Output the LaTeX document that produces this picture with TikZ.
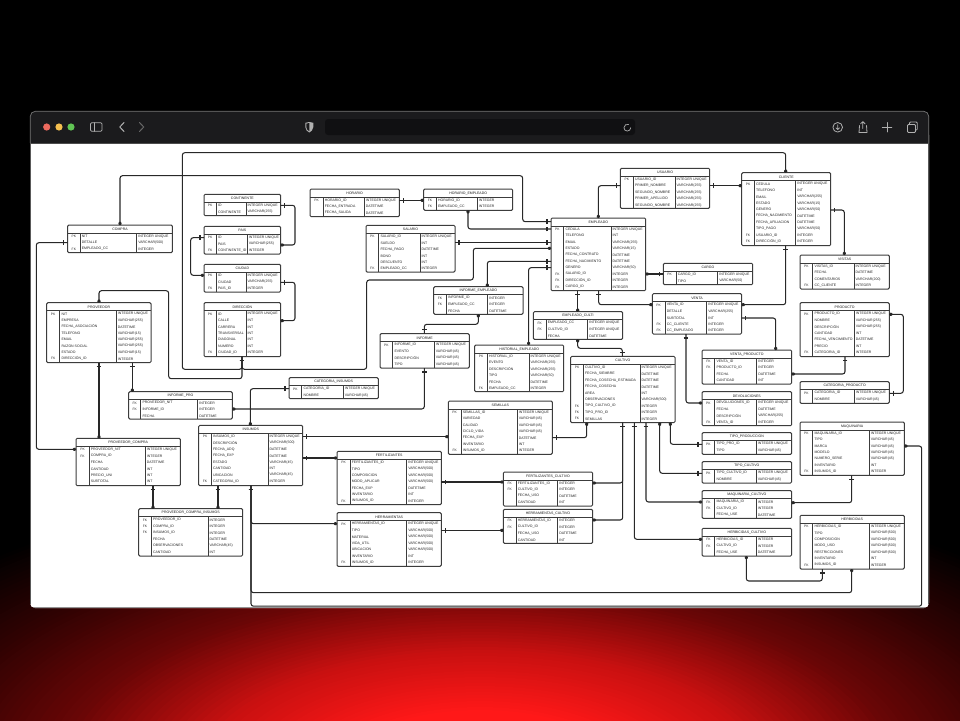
\documentclass[tikz,border=0pt]{standalone}
\usepackage{fontspec}
\setmainfont{Liberation Sans}
\usetikzlibrary{decorations.markings}
\definecolor{glowA}{HTML}{FF1818}
\definecolor{glowB}{HTML}{C81010}
\definecolor{glowC}{HTML}{6A0606}
\definecolor{glowD}{HTML}{300202}
\definecolor{glowE}{HTML}{000000}
\definecolor{chrome}{HTML}{1B1B1D}
\definecolor{addr}{HTML}{101012}
\definecolor{iconc}{HTML}{B0B0B0}
\definecolor{tline}{HTML}{3C3C3C}
\definecolor{cline}{HTML}{282828}
\definecolor{ttext}{HTML}{262626}
\definecolor{lightR}{HTML}{EC6A5E}
\definecolor{lightY}{HTML}{F4BF4F}
\definecolor{lightG}{HTML}{61C554}
\tikzset{
  tbox/.style={draw=tline,line width=1pt,fill=white,rounded corners=1.2pt,anchor=north west,inner sep=0pt,outer sep=0pt},
  tsep/.style={draw=tline,line width=.9pt},
  tkey/.style={font=\fontsize{3.3}{4}\selectfont,text=ttext,inner sep=0pt,anchor=center},
  tcell/.style={font=\fontsize{3.5}{4}\selectfont,text=ttext,inner sep=0pt,anchor=west},
  ttitle/.style={font=\fontsize{3.5}{4}\selectfont,text=black!90,inner sep=0pt,anchor=center},
  conn/.style={draw=cline,line width=1.05pt,rounded corners=2.5pt},
  oneS/.style={postaction={decorate,decoration={markings,mark=at position 4pt with {\draw[cline,line width=1.1pt] (0,-2.4pt)--(0,2.4pt);}}}},
  oneE/.style={postaction={decorate,decoration={markings,mark=at position -4pt with {\draw[cline,line width=1.1pt] (0,-2.4pt)--(0,2.4pt);}}}},
  manyS/.style={postaction={decorate,decoration={markings,mark=at position .1pt with {\fill[cline] (0,-2.7pt)--(4.6pt,0)--(0,2.7pt)--cycle;}}}},
  manyE/.style={postaction={decorate,decoration={markings,mark=at position -.1pt with {\fill[cline] (0,-2.7pt)--(-4.6pt,0)--(0,2.7pt)--cycle;}}}},
  icon/.style={draw=iconc,line width=.8pt,line cap=round,line join=round},
}
% name, title, x1, y1, x2, y2, col1, col2, rows
\newcommand{\tbl}[9]{%
  \node[tbox,minimum width={(#5-#3)*1pt},minimum height={(#6-#4)*1pt}] (#1) at (#3,#4) {};
  \node[ttitle] (#1-title) at ({(#3+#5)/2},{#4+4.2}) {#2};
  \draw[tsep] (#3,{#4+8}) -- (#5,{#4+8});
  \draw[tsep] (#7,{#4+8}) -- (#7,#6);
  \draw[tsep] (#8,{#4+8}) -- (#8,#6);
  \foreach \ka/\nb/\tc [count=\ii] in {#9}{
    \node[tkey] (#1-k\ii) at ({(#3+#7)/2},{#4+8+3.3+6.4*(\ii-1)}) {\ka};
    \node[tcell] (#1-n\ii) at ({#7+1.6},{#4+8+3.3+6.4*(\ii-1)}) {\nb};
    \node[tcell] (#1-t\ii) at ({#8+1.4},{#4+8+3.3+6.4*(\ii-1)}) {\tc};
  }%
}
\begin{document}
\begin{tikzpicture}[x=1pt,y=-1pt]
\useasboundingbox (0,0) rectangle (960,720);
\fill[black] (0,0) rectangle (960,720);
\begin{scope}
  \clip (0,0) rectangle (960,720);
  \foreach \ca/\cb/\ro in {glowE/glowD/1,glowD/glowC/.8,glowC/glowB/.6,glowB/glowA/.4}{
    \foreach \st in {0,...,20}{
      \pgfmathsetmacro\pc{\st*5}
      \fill[\cb!\pc!\ca] (480,770) ellipse ({700*(\ro-.2*\st/20)} and {300*(\ro-.2*\st/20)});
    }
  }
\end{scope}
% window
\fill[white,rounded corners=5pt] (30,130) rectangle (929,608);
\fill[black!70,opacity=.6] (34,606.8) rectangle (925,608.2);
\fill[chrome,rounded corners=5pt] (30,111) rectangle (929,150);
\fill[white] (31,143) rectangle (928,152);
\draw[black!55,line width=.7pt,rounded corners=5pt] (30.3,143) -- (30.3,111.3) -- (928.7,111.3) -- (928.7,143);
\draw[black!70,line width=.8pt] (30.5,143) -- (928.5,143);
\draw[black!65,line width=.8pt] (30.4,143) -- (30.4,604);
\draw[black!65,line width=.8pt] (928.6,143) -- (928.6,604);
\fill[addr,rounded corners=3pt] (325,119) rectangle (635,135);
\fill[lightR] (46.7,127) circle (3.6);
\fill[lightY] (59,127) circle (3.6);
\fill[lightG] (71,127) circle (3.6);
\draw[icon,rounded corners=1.2pt] (90.5,122.7) rectangle (102,131.3);
\draw[icon] (94.5,122.7) -- (94.5,131.3);
\draw[icon,line width=1pt] (124,122.5) -- (119.8,127) -- (124,131.5);
\draw[black!60,line width=1pt,line cap=round] (139.5,122.5) -- (143.7,127) -- (139.5,131.5);
\fill[iconc] (305.3,122.8) -- (309.3,122) -- (313.3,122.8) -- (313.3,127) .. controls (313.3,130) and (311,131.5) .. (309.3,132.5) .. controls (307.6,131.5) and (305.3,130) .. (305.3,127) -- cycle;
\fill[chrome] (306.3,123.6) -- (309.3,123) -- (309.3,131.2) .. controls (307.8,130.3) and (306.3,129) .. (306.3,127) -- cycle;
\draw[icon,line width=.7pt] (630.7,127.7) arc[start angle=0,end angle=290,radius=3.4];
\draw[icon] (837.7,127.3) circle (4.8);
\draw[icon,line width=.7pt] (837.7,124.7) -- (837.7,129.3) (835.9,127.9) -- (837.7,129.6) -- (839.5,127.9);
\draw[icon] (859.5,125.5) -- (859,132.5) -- (867,132.5) -- (866.5,125.5);
\draw[icon] (862.8,128.5) -- (862.8,121.8) (860.6,123.8) -- (862.8,121.6) -- (865,123.8);
\draw[icon] (887,122.5) -- (887,132) (882.2,127.2) -- (891.8,127.2);
\draw[icon,rounded corners=1pt] (907.5,124.5) rectangle (915.5,132.5);
\draw[icon,rounded corners=1pt] (909.5,124) -- (909.5,122) -- (917.3,122) -- (917.3,130) -- (916,130);

% tables
\tbl{compra}{COMPRA}{67.7}{225}{172.3}{252.7}{80}{136.7}{PK/NIT/INTEGER UNIQUE,/DETALLE/VARCHAR(500),FK/EMPLEADO\_CC/INTEGER}
\tbl{continente}{CONTINENTE}{204}{194.3}{280.7}{215.7}{216.3}{246}{PK/ID/INTEGER UNIQUE,/CONTINENTE/VARCHAR(255)}
\tbl{pais}{PAIS}{204}{226.3}{280.7}{254}{216.3}{247.3}{PK/ID/INTEGER UNIQUE,/PAIS/VARCHAR(255),FK/CONTINENTE\_ID/INTEGER}
\tbl{ciudad}{CIUDAD}{204}{264.3}{280.7}{292}{216.3}{246}{PK/ID/INTEGER UNIQUE,/CIUDAD/VARCHAR(255),FK/PAIS\_ID/INTEGER}
\tbl{direccion}{DIRECCIÓN}{204}{302.7}{280.7}{356.7}{216.3}{246}{PK/ID/INTEGER UNIQUE,/CALLE/INT,/CARRERA/INT,/TRANSVERSAL/INT,/DIAGONAL/INT,/NUMERO/INT,FK/CIUDAD\_ID/INTEGER}
\tbl{proveedor}{PROVEEDOR}{46.7}{302.7}{151}{362.7}{59.7}{116.3}{PK/NIT/INTEGER UNIQUE,/EMPRESA/VARCHAR(255),/FECHA\_ASOCIACIÓN/DATETIME,/TELEFONO/VARCHAR(15),/EMAIL/VARCHAR(255),/RAZON SOCIAL/VARCHAR(255),/ESTADO/VARCHAR(15),FK/DIRECCIÓN\_ID/INTEGER}
\tbl{informepro}{INFORME\_PRO}{128.7}{391.7}{232.3}{419}{140.7}{197.7}{FK/PROVEEDOR\_NIT/INTEGER,FK/INFORME\_ID/INTEGER,/FECHA/DATETIME}
\tbl{horario}{HORARIO}{310}{189}{399.3}{216.7}{323}{364.3}{PK/HORARIO\_ID/INTEGER UNIQUE,/FECHA\_ENTRADA/DATETIME,/FECHA\_SALIDA/DATETIME}
\tbl{horarioemp}{HORARIO\_EMPLEADO}{423.7}{189}{512.7}{210.3}{436.3}{477.3}{FK/HORARIO\_ID/INTEGER,FK/EMPLEADO\_CC/INTEGER}
\tbl{salario}{SALARIO}{366}{225.3}{455}{272}{378.7}{420}{PK/SALARIO\_ID/INTEGER UNIQUE,/SUELDO/INT,/FECHA\_PAGO/DATETIME,/BONO/INT,/DESCUENTO/INT,FK/EMPLEADO\_CC/INTEGER}
\tbl{informeemp}{INFORME\_EMPLEADO}{433.7}{286.7}{523}{314.3}{446.3}{487.7}{FK/INFORME\_ID/INTEGER,FK/EMPLEADO\_CC/INTEGER,/FECHA/DATETIME}
\tbl{empleado}{EMPLEADO}{551}{218}{645.7}{290.7}{563.7}{611}{PK/CEDULA/INTEGER UNIQUE,/TELEFONO/INT,/EMAIL/VARCHAR(255),/ESTADO/VARCHAR(15),/FECHA\_CONTRATO/DATETIME,/FECHA\_NACIMIENTO/DATETIME,/GENERO/VARCHAR(50),FK/SALARIO\_ID/INTEGER,FK/DIRECCIÓN\_ID/INTEGER,FK/CARGO\_ID/INTEGER}
\tbl{usuario}{USUARIO}{620.3}{168.3}{709.7}{208.3}{633.3}{675}{PK/USUARIO\_ID/INTEGER UNIQUE,/PRIMER\_NOMBRE/VARCHAR(255),/SEGUNDO\_NOMBRE/VARCHAR(255),/PRIMER\_APELLIDO/VARCHAR(255),/SEGUNDO\_NOMBRE/VARCHAR(255)}
\tbl{cliente}{CLIENTE}{741.7}{172.7}{830.7}{245.7}{754.3}{795.7}{PK/CEDULA/INTEGER UNIQUE,/TELEFONO/INT,/EMAIL/VARCHAR(255),/ESTADO/VARCHAR(15),/GENERO/VARCHAR(50),/FECHA\_NACIMIENTO/DATETIME,/FECHA\_AFILIACION/DATETIME,/TIPO\_PAGO/VARCHAR(50),FK/USUARIO\_ID/INTEGER,FK/DIRECCIÓN\_ID/INTEGER}
\tbl{visitas}{VISITAS}{800}{255}{889.3}{289}{812.7}{854}{PK/VISITAS\_ID/INTEGER UNIQUE,/FECHA/DATETIME,/COMENTARIOS/VARCHAR(200),FK/CC\_CLIENTE/INTEGER}
\tbl{cargo}{CARGO}{663.3}{263.3}{752.7}{284.7}{676}{717.7}{PK/CARGO\_ID/INTEGER UNIQUE,/TIPO/VARCHAR(50)}
\tbl{venta}{VENTA}{652.3}{293.7}{741.7}{334}{665}{706.7}{PK/VENTA\_ID/INTEGER UNIQUE,/DETALLE/VARCHAR(255),/SUBTOTAL/INT,FK/CC\_CLIENTE/INTEGER,FK/CC\_EMPLEADO/INTEGER}
\tbl{empcult}{EMPLEADO\_CULTI}{533.3}{311.7}{622.7}{339.3}{546}{587.7}{FK/EMPLEADO\_CC/INTEGER UNIQUE,FK/CULTIVO\_ID/INTEGER UNIQUE,/FECHA/DATETIME}
\tbl{cultivo}{CULTIVO}{570.7}{356.3}{675}{422.7}{583.3}{640}{PK/CULTIVO\_ID/INTEGER UNIQUE,/FECHA\_SIEMBRE/DATETIME,/FECHA\_COSECHA\_ESTIMADA/DATETIME,/FECHA\_COSECHA/DATETIME,/AREA/INT,/OBSERVACIONES/VARCHAR(500),FK/TIPO\_CULTIVO\_ID/INTEGER,FK/TIPO\_PRO\_ID/INTEGER,FK/SEMILLAS/INTEGER}
\tbl{ventaprod}{VENTA\_PRODUCTO}{702}{350}{791.7}{384}{714.7}{756.7}{FK/VENTA\_ID/INTEGER,FK/PRODUCTO\_ID/INTEGER,/FECHA/DATETIME,/CANTIDAD/INT}
\tbl{devol}{DEVOLUCIONES}{702}{391.7}{791.7}{425.7}{714.7}{756.7}{PK/DEVOLUCIONES\_ID/INTEGER UNIQUE,/FECHA/DATETIME,/DESCRIPCIÓN/VARCHAR(255),FK/VENTA\_ID/INTEGER}
\tbl{historial}{HISTORIAL\_EMPLEADO}{474.7}{345}{563.7}{391.7}{487.3}{529}{PK/HISTORIAL\_ID/INTEGER UNIQUE,/EVENTO/VARCHAR(255),/DESCRIPCIÓN/VARCHAR(255),/TIPO/VARCHAR(50),/FECHA/DATETIME,FK/EMPLEADO\_CC/INTEGER}
\tbl{informe}{INFORME}{380}{333.7}{469.3}{368}{392.7}{434.3}{PK/INFORME\_ID/INTEGER UNIQUE,/EVENTO/VARCHAR(45),/DESCRIPCIÓN/VARCHAR(45),/TIPO/VARCHAR(45)}
\tbl{catins}{CATEGORIA\_INSUMOS}{289}{377.7}{378.3}{398.7}{301.7}{343.3}{PK/CATEGORIA\_ID/INTEGER UNIQUE,/NOMBRE/VARCHAR(45)}
\tbl{semillas}{SEMILLAS}{448.3}{401}{552.3}{454.3}{461}{517.3}{PK/SEMILLAS\_ID/INTEGER UNIQUE,/VARIEDAD/VARCHAR(45),/CALIDAD/VARCHAR(45),/CICLO\_VIDA/VARCHAR(45),/FECHA\_EXP/DATETIME,/INVENTARIO/INT,FK/INSUMOS\_ID/INTEGER}
\tbl{producto}{PRODUCTO}{800}{302.7}{889.3}{356.7}{812.7}{854.3}{PK/PRODUCTO\_ID/INTEGER UNIQUE,/NOMBRE/VARCHAR(255),/DESCRIPCIÓN/VARCHAR(255),/CANTIDAD/INT,/FECHA\_VENCIMIENTO/DATETIME,/PRECIO/INT,FK/CATEGORIA\_ID/INTEGER}
\tbl{catprod}{CATEGORIA\_PRODUCTO}{800}{381.7}{889.3}{403.3}{812.7}{854.3}{PK/CATEGORIA\_ID/INTEGER UNIQUE,/NOMBRE/VARCHAR(45)}
\tbl{provcomp}{PROVEEDOR\_COMPRA}{76}{438.3}{180.3}{485.7}{89}{145.3}{PK/PROVEEDOR\_NIT/INTEGER UNIQUE,FK/COMPRA\_ID/INTEGER,/FECHA/DATETIME,/CANTIDAD/INT,/PRECIO\_UNI/INT,/SUBTOTAL/INT}
\tbl{insumos}{INSUMOS}{198.7}{425.3}{302.7}{485.7}{211.3}{268}{PK/INSUMOS\_ID/INTEGER UNIQUE,/DESCRIPCIÓN/VARCHAR(500),/FECHA\_ADQ/DATETIME,/FECHA\_EXP/DATETIME,/ESTADO/VARCHAR(45),/CANTIDAD/INT,/UBICACION/VARCHAR(45),FK/CATEGORIA\_ID/INTEGER}
\tbl{pci}{PROVEEDOR\_COMPRA\_INSUMOS}{138.7}{508.7}{242.7}{556}{151.3}{208}{FK/PROVEEDOR\_ID/INTEGER,FK/COMPRA\_ID/INTEGER,FK/INSUMOS\_ID/INTEGER,/FECHA/DATETIME,/OBSERVACIONES/VARCHAR(45),/CANTIDAD/INT}
\tbl{fert}{FERTILIZANTES}{337}{451.3}{441.3}{504.7}{350}{406.7}{PK/FERTILIZANTES\_ID/INTEGER UNIQUE,/TIPO/VARCHAR(500),/COMPOSICION/VARCHAR(500),/MODO\_APLICAR/VARCHAR(500),/FECHA\_EXP/DATETIME,/INVENTARIO/INT,FK/INSUMOS\_ID/INTEGER}
\tbl{herr}{HERRAMIENTAS}{337}{512.7}{441.3}{566.3}{350}{406.7}{PK/HERRAMIENTAS\_ID/INTEGER UNIQUE,/TIPO/VARCHAR(500),/MATERIAL/VARCHAR(500),/VIDA\_UTIL/VARCHAR(500),/UBICACION/VARCHAR(500),/INVENTARIO/INT,FK/INSUMOS\_ID/INTEGER}
\tbl{fertcult}{FERTILIZANTES\_CULTIVO}{503.3}{472}{592.7}{506}{516}{557.7}{FK/FERTILIZANTES\_ID/INTEGER,FK/CULTIVO\_ID/INTEGER,/FECHA\_USO/DATETIME,/CANTIDAD/INT}
\tbl{herrcult}{HERRAMIENTAS\_CULTIVO}{503.3}{509.3}{592.7}{543.3}{516}{557.7}{FK/HERRAMIENTAS\_ID/INTEGER,FK/CULTIVO\_ID/INTEGER,/FECHA\_USO/DATETIME,/CANTIDAD/INT}
\tbl{tipoprod}{TIPO\_PRODUCCION}{702}{432.7}{791.7}{454.3}{714.7}{756.3}{PK/TIPO\_PRO\_ID/INTEGER UNIQUE,/TIPO/VARCHAR(45)}
\tbl{tipocult}{TIPO\_CULTIVO}{702}{461.7}{791.7}{483}{714.7}{756.3}{PK/TIPO\_CULTIVO\_ID/INTEGER UNIQUE,/NOMBRE/VARCHAR(45)}
\tbl{maqcult}{MAQUINARIA\_CULTIVO}{702}{490.7}{791.7}{518.3}{714.7}{756.3}{FK/MAQUINARIA\_ID/INTEGER,FK/CULTIVO\_ID/INTEGER,/FECHA\_USE/DATETIME}
\tbl{hercult}{HERBICIDAS\_CULTIVO}{702}{528.3}{791.7}{556}{714.7}{756.3}{FK/HERBICIDAS\_ID/INTEGER,FK/CULTIVO\_ID/INTEGER,/FECHA\_USE/DATETIME}
\tbl{maq}{MAQUINARIA}{800}{422}{904.3}{475.3}{812.7}{869.3}{PK/MAQUINARIA\_ID/INTEGER UNIQUE,/TIPO/VARCHAR(45),/MARCA/VARCHAR(45),/MODELO/VARCHAR(45),/NUMERO\_SERIE/VARCHAR(45),/INVENTARIO/INT,FK/INSUMOS\_ID/INTEGER}
\tbl{herb}{HERBICIDAS}{800}{515.3}{904.3}{569}{812.7}{869.3}{PK/HERBICIDAS\_ID/INTEGER UNIQUE,/TIPO/VARCHAR(500),/COMPOSICION/VARCHAR(500),/MODO\_USO/VARCHAR(500),/RESTRICCIONES/VARCHAR(500),/INVENTARIO/INT,FK/INSUMOS\_ID/INTEGER}

% connectors
\draw[conn,manyS,oneE] (compra.north -| 120,0) -- (120,175.7) -- (522.7,175.7) -- (522.7,221.7) -- (empleado.west |- 0,221.7);
\draw[conn,oneS,manyE] (direccion.south -| 242,0) -- (242,369.3) -- (182.3,369.3) -- (182.3,152.7) -- (785.7,152.7) -- (cliente.north -| 785.7,0);
\draw[conn,oneS,manyE] (direccion.south -| 242,0) -- (242,369.3) -- (366.7,369.3) -- (366.7,280) -- (473.3,280) -- (473.3,248.3) -- (empleado.west |- 0,248.3);
\draw[conn,oneS,manyE] (direccion.south -| 242,0) -- (242,378.7) -- (168.7,378.7) -- (168.7,290.7) -- (99,290.7) -- (proveedor.north -| 99,0);
\draw[conn,oneS,manyE] (continente.east |- 0,205.3) -- (295,205.3) -- (295,245) -- (pais.east |- 0,245);
\draw[conn,oneS,manyE] (pais.west |- 0,237.7) -- (190.7,237.7) -- (190.7,275.3) -- (ciudad.west |- 0,275.3);
\draw[conn,oneS,manyE] (ciudad.east |- 0,282.3) -- (295,282.3) -- (295,320.7) -- (direccion.east |- 0,320.7);
\draw[conn,oneS,manyE] (compra.west |- 0,242.7) -- (36.3,242.7) -- (36.3,449.3) -- (provcomp.west |- 0,449.3);
\draw[conn,oneS,manyE] (proveedor.south -| 99,0) -- (provcomp.north -| 99,0);
\draw[conn,oneS,manyE] (proveedor.south -| 132.3,0) -- (informepro.north -| 132.3,0);
\draw[conn,manyS,oneE] (informepro.east |- 0,409) -- (424.3,409) -- (informe.south -| 424.3,0);
\draw[conn,manyS,oneE] (insumos.north -| 250.3,0) -- (250.3,388.7) -- (catins.west |- 0,388.7);
\draw[conn,oneS,manyE] (informe.north -| 424.3,0) -- (424.3,324.3) -- (478.3,324.3) -- (informeemp.south -| 478.3,0);
\draw[conn,manyS,oneE] (informeemp.north -| 487.3,0) -- (487.3,261.3) -- (empleado.west |- 0,261.3);
\draw[conn,oneS,manyE] (horario.east |- 0,200.3) -- (horarioemp.west |- 0,200.3);
\draw[conn,manyS,oneE] (horarioemp.south -| 468,0) -- (468,229) -- (empleado.west |- 0,229);
\draw[conn,oneS,oneE] (salario.east |- 0,242.3) -- (empleado.west |- 0,242.3);
\draw[conn,manyS,oneE] (historial.north -| 528.6,0) -- (528.6,267.7) -- (empleado.west |- 0,267.7);
\draw[conn,oneS,manyE] (usuario.west |- 0,185.7) -- (598.3,185.7) -- (empleado.north -| 598.3,0);
\draw[conn,oneS,manyE] (usuario.east |- 0,185.7) -- (cliente.west |- 0,185.7);
\draw[conn,oneS,manyE] (cliente.east |- 0,210) -- (844.3,210) -- (visitas.north -| 844.3,0);
\draw[conn,manyS,oneE] (empleado.east |- 0,274) -- (cargo.west |- 0,274);
\draw[conn,oneS,manyE] (cliente.south -| 785.7,0) -- (785.7,304.7) -- (venta.east |- 0,304.7);
\draw[conn,oneS,manyE] (venta.east |- 0,318) -- (775.7,318) -- (ventaprod.north -| 775.7,0);
\draw[conn,manyS,oneE] (ventaprod.east |- 0,374) -- (845,374) -- (producto.south -| 845,0);
\draw[conn,manyS,oneE] (producto.east |- 0,314.3) -- (903.3,314.3) -- (903.3,393.3) -- (catprod.east |- 0,393.3);
\draw[conn,oneS,manyE] (empleado.south -| 577.7,0) -- (empcult.north -| 577.7,0);
\draw[conn,oneS,manyE] (empleado.south -| 598.7,0) -- (598.7,304.7) -- (venta.west |- 0,304.7);
\draw[conn,manyS,oneE] (empcult.south -| 577.7,0) -- (577.7,348.3) -- (622.3,348.3) -- (cultivo.north -| 622.3,0);
\draw[conn,oneS,manyE] (venta.south -| 686,0) -- (686,403) -- (devol.west |- 0,403);
\draw[conn,manyS,oneE] (cultivo.south -| 670.3,0) -- (670.3,444.3) -- (tipoprod.west |- 0,444.3);
\draw[conn,manyS,oneE] (cultivo.south -| 659.7,0) -- (659.7,473.3) -- (tipocult.west |- 0,473.3);
\draw[conn,oneS,manyE] (cultivo.south -| 646,0) -- (646,502) -- (maqcult.west |- 0,502);
\draw[conn,oneS,manyE] (cultivo.south -| 634.3,0) -- (634.3,539.3) -- (hercult.west |- 0,539.3);
\draw[conn,oneS,manyE] (cultivo.south -| 622.7,0) -- (622.7,483) -- (fertcult.east |- 0,483);
\draw[conn,oneS,manyE] (cultivo.south -| 622.7,0) -- (622.7,520) -- (herrcult.east |- 0,520);
\draw[conn,manyS,oneE] (cultivo.south -| 586.7,0) -- (586.7,437.7) -- (semillas.east |- 0,437.7);
\draw[conn,oneS,manyE] (insumos.east |- 0,436.7) -- (semillas.west |- 0,436.7);
\draw[conn,oneS,manyE] (insumos.east |- 0,458) -- (fert.west |- 0,458);
\draw[conn,oneS,manyE] (insumos.south -| 251,0) -- (251,523.7) -- (herr.west |- 0,523.7);
\draw[conn,oneS,manyE] (insumos.south -| 251,0) -- (251,592.7) -- (851.7,592.7) -- (herb.south -| 851.7,0);
\draw[conn,oneS,manyE] (insumos.south -| 251,0) -- (251,606.2) -- (921.7,606.2) -- (921.7,446) -- (maq.east |- 0,446);
\draw[conn,oneS,manyE] (provcomp.south -| 153,0) -- (pci.north -| 153,0);
\draw[conn,oneS,manyE] (insumos.south -| 218,0) -- (pci.north -| 218,0);
\draw[conn,oneS,manyE] (fert.east |- 0,482) -- (fertcult.west |- 0,482);
\draw[conn,oneS,manyE] (herr.east |- 0,530.3) -- (herrcult.west |- 0,530.3);
\draw[conn,manyS,oneE] (maqcult.east |- 0,502.7) -- (851.7,502.7) -- (maq.south -| 851.7,0);
\draw[conn,manyS,oneE] (hercult.south -| 746.3,0) -- (746.3,581) -- (822.3,581) -- (herb.south -| 822.3,0);
\end{tikzpicture}
\end{document}
